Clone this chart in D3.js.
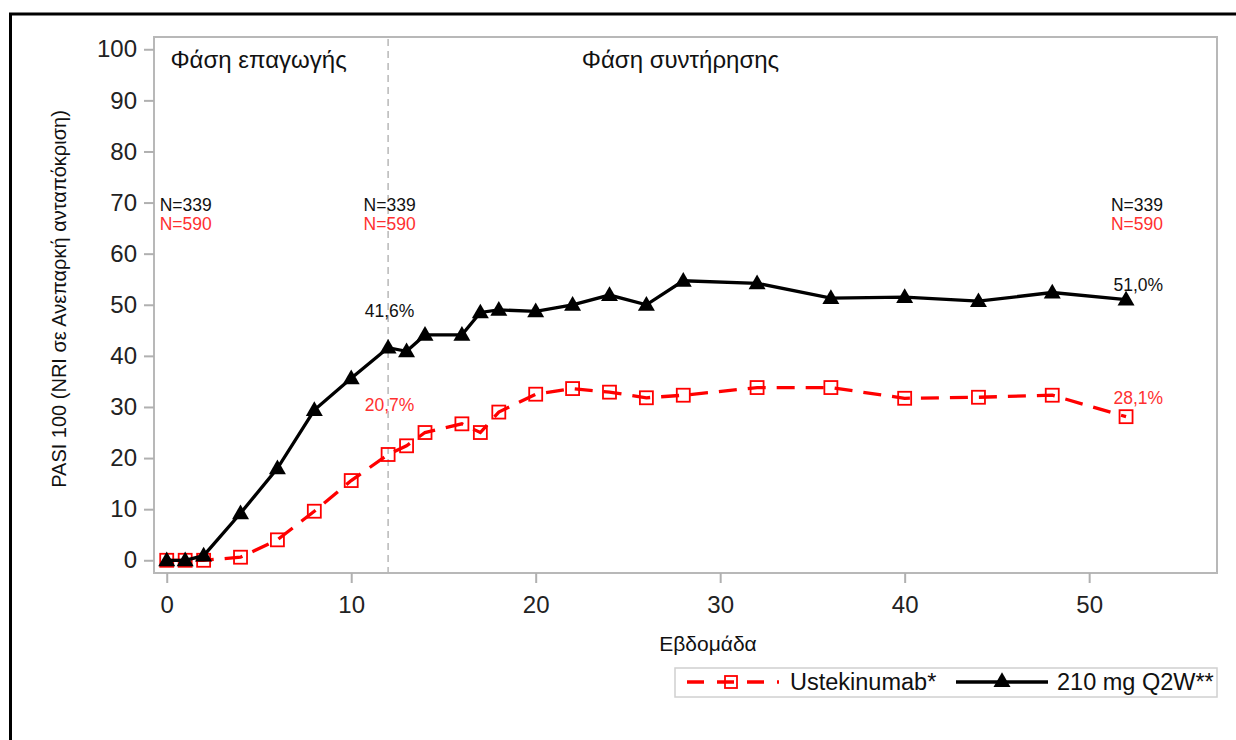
<!DOCTYPE html>
<html>
<head>
<meta charset="utf-8">
<script src="https://cdn.jsdelivr.net/npm/d3@7"></script>
<style>
  body { margin: 0; background: #fff; }
  text { font-family: "Liberation Sans", Arial, sans-serif; }
</style>
</head>
<body>
<div id="graph"></div>
<script>
// data
var weeks = [0, 1, 2, 4, 6, 8, 10, 12, 13, 14, 16, 17, 18, 20, 22, 24, 26, 28, 32, 36, 40, 44, 48, 52]
var q2w   = [0, 0, 0.9, 9.2, 18.0, 29.4, 35.6, 41.6, 40.9, 44.1, 44.1, 48.5, 49.0, 48.7, 50.0, 51.9, 50.0, 54.7, 54.2, 51.3, 51.5, 50.7, 52.4, 51.0]
var uste  = [0, 0, 0, 0.6, 4.0, 9.6, 15.6, 20.7, 22.4, 25.0, 26.7, 25.0, 29.0, 32.5, 33.6, 32.9, 31.8, 32.3, 33.8, 33.8, 31.7, 31.9, 32.3, 28.1]

var xTicks = [0, 10, 20, 30, 40, 50]
var yTicks = d3.range(0, 101, 10)
var seriesNames = ['Ustekinumab*', '210 mg Q2W**']
var phaseLabels = ['Φάση επαγωγής', 'Φάση συντήρησης']
var phaseWeeks = [0.2, 22.5]
var nWeeks = [0, 12, 52]
var nQ2w = 'N=339'
var nUste = 'N=590'
var pctWeeks = [12, 52]

var W = 1236, H = 740
var red = '#ff0000', redText = '#ff3030'
var fontFam = '"Liberation Sans", Arial, sans-serif'

var svg = d3.select('#graph').append('svg')
  .attr('width', W).attr('height', H)

// outer black frame (runs off the right and bottom)
svg.append('rect')
  .attr('x', 10.5).attr('y', 14).attr('width', W + 20).attr('height', H + 20)
  .attr('fill', 'none').attr('stroke', '#000').attr('stroke-width', 3)

var pL = 154, pR = 1217, pT = 37, pB = 573

var x = d3.scaleLinear().domain([-0.69, 56.93]).range([pL, pR])
var y = d3.scaleLinear().domain([-2.49, 102.4]).range([pB, pT])

// plot frame
svg.append('rect')
  .attr('x', pL).attr('y', pT).attr('width', pR - pL).attr('height', pB - pT)
  .attr('fill', 'none').attr('stroke', '#b8b8b8').attr('stroke-width', 2)

// axes
var yAxis = svg.append('g')
  .attr('transform', 'translate(' + pL + ',0)')
  .call(d3.axisLeft(y).tickValues(yTicks).tickSize(10).tickPadding(7))
var xAxis = svg.append('g')
  .attr('transform', 'translate(0,' + pB + ')')
  .call(d3.axisBottom(x).tickValues(xTicks).tickSize(10).tickPadding(8))

;[xAxis, yAxis].forEach(a => {
  a.select('.domain').remove()
  a.selectAll('line').attr('stroke', '#b0b0b0').attr('stroke-width', 2)
  a.selectAll('text').attr('fill', '#222').attr('font-size', 24)
    .style('font-family', fontFam)
})
xAxis.selectAll('text').attr('dy', '0.9em')

// axis titles
svg.append('text')
  .attr('transform', 'translate(66,299) rotate(-90)')
  .attr('text-anchor', 'middle')
  .attr('font-size', 20).attr('fill', '#111')
  .text('PASI 100 (NRI σε Ανεπαρκή ανταπόκριση)')

svg.append('text')
  .attr('x', 708).attr('y', 651)
  .attr('text-anchor', 'middle')
  .attr('font-size', 21).attr('fill', '#111')
  .text('Εβδομάδα')

// end of induction phase
svg.append('line')
  .attr('x1', x(12)).attr('x2', x(12))
  .attr('y1', pT + 2).attr('y2', pB)
  .attr('stroke', '#b8b8b8').attr('stroke-width', 1.5)
  .attr('stroke-dasharray', '7,5')

svg.selectAll('text.phase').data(phaseLabels).enter().append('text')
  .attr('class', 'phase')
  .attr('x', (d, i) => x(phaseWeeks[i]))
  .attr('y', 68)
  .attr('font-size', 24).attr('fill', '#111')
  .text(d => d)

// N labels
var nAnchor = ['start', 'middle', 'end']
var nDx = [-7, 1.5, 37]
nWeeks.forEach((w, i) => {
  svg.append('text').attr('x', x(w) + nDx[i]).attr('y', 211)
    .attr('text-anchor', nAnchor[i]).attr('font-size', 17.5).attr('fill', '#111')
    .text(nQ2w)
  svg.append('text').attr('x', x(w) + nDx[i]).attr('y', 230)
    .attr('text-anchor', nAnchor[i]).attr('font-size', 17.5).attr('fill', redText)
    .text(nUste)
})

// lines
var pts1 = weeks.map((w, i) => [w, uste[i]])
var pts2 = weeks.map((w, i) => [w, q2w[i]])
var line = d3.line().x(d => x(d[0])).y(d => y(d[1]))

svg.append('path').datum(pts1)
  .attr('d', line).attr('fill', 'none')
  .attr('stroke', red).attr('stroke-width', 3.3)
  .attr('stroke-dasharray', '18,11')

svg.selectAll('rect.sq').data(pts1).enter().append('rect')
  .attr('class', 'sq')
  .attr('x', d => x(d[0]) - 6.5).attr('y', d => y(d[1]) - 6.5)
  .attr('width', 13).attr('height', 13)
  .attr('fill', 'none').attr('stroke', red).attr('stroke-width', 1.8)

svg.append('path').datum(pts2)
  .attr('d', line).attr('fill', 'none')
  .attr('stroke', '#000').attr('stroke-width', 3.3)

var tri = d3.symbol().type(d3.symbolTriangle).size(125)
svg.selectAll('path.tri').data(pts2).enter().append('path')
  .attr('class', 'tri')
  .attr('transform', d => 'translate(' + x(d[0]) + ',' + (y(d[1]) + 1) + ')')
  .attr('d', tri).attr('fill', '#000')

// percent labels
var pct = v => d3.format('.1f')(v).replace('.', ',') + '%'
var pAnchor = ['middle', 'end']
var pDx = [1.5, 37]
var pDyQ2w = [-31, -9]
var pDyUste = [-43, -12.5]
pctWeeks.forEach((w, i) => {
  var k = weeks.indexOf(w)
  svg.append('text').attr('x', x(w) + pDx[i]).attr('y', y(q2w[k]) + pDyQ2w[i])
    .attr('text-anchor', pAnchor[i]).attr('font-size', 17.5).attr('fill', '#111')
    .text(pct(q2w[k]))
  svg.append('text').attr('x', x(w) + pDx[i]).attr('y', y(uste[k]) + pDyUste[i])
    .attr('text-anchor', pAnchor[i]).attr('font-size', 17.5).attr('fill', redText)
    .text(pct(uste[k]))
})

// legend
var lg = svg.append('g')
lg.append('rect')
  .attr('x', 675).attr('y', 668).attr('width', pR - 675).attr('height', 29)
  .attr('fill', '#fff').attr('stroke', '#d0d0d0').attr('stroke-width', 1.5)

lg.append('line').attr('x1', 687).attr('x2', 779).attr('y1', 682).attr('y2', 682)
  .attr('stroke', red).attr('stroke-width', 3.3).attr('stroke-dasharray', '17,13')
lg.append('rect').attr('x', 725).attr('y', 676).attr('width', 12).attr('height', 12)
  .attr('fill', 'none').attr('stroke', red).attr('stroke-width', 1.8)
lg.append('text').attr('x', 790).attr('y', 690)
  .attr('font-size', 23.5).attr('fill', '#111').text(seriesNames[0])

lg.append('line').attr('x1', 956).attr('x2', 1048).attr('y1', 682).attr('y2', 682)
  .attr('stroke', '#000').attr('stroke-width', 3.3)
lg.append('path').attr('transform', 'translate(1002,682)').attr('d', tri).attr('fill', '#000')
lg.append('text').attr('x', 1057).attr('y', 690)
  .attr('font-size', 23.5).attr('fill', '#111').text(seriesNames[1])
</script>
</body>
</html>
